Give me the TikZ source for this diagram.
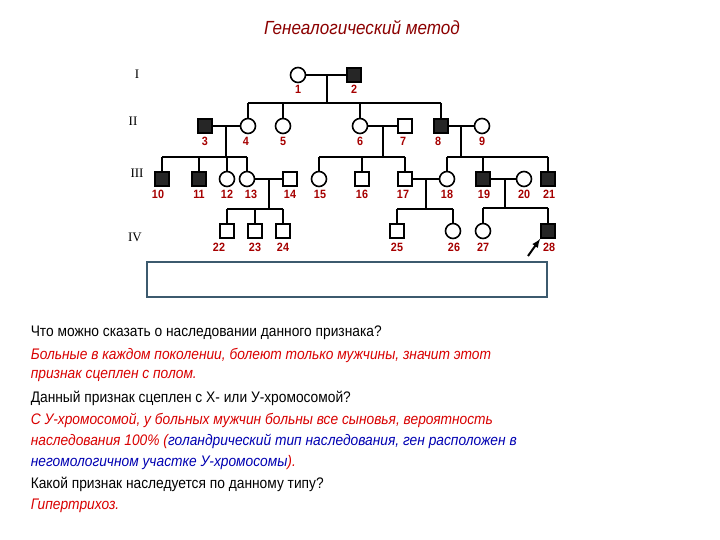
\documentclass[tikz,border=0pt]{standalone}
\usepackage{fontspec}
\setmainfont[FakeStretch=0.9]{Liberation Sans}
\newfontfamily\serifgen{Liberation Serif}
\begin{document}
\begin{tikzpicture}[x=1pt,y=-1pt,line width=1.6pt,
  m/.style={draw,rectangle,minimum size=14pt,inner sep=0pt},
  am/.style={m,fill=black!85},
  f/.style={draw,circle,minimum size=15pt,inner sep=0pt},
  lb/.style={font=\fontsize{12}{12}\selectfont\bfseries,text=red!65!black},
  gen/.style={font=\fontsize{13}{13}\selectfont\serifgen},
  tx/.style={anchor=west,inner sep=0pt,font=\fontsize{15.3}{16}\selectfont},
  ans/.style={tx,text=red!85!black,font=\fontsize{15.3}{16}\selectfont\itshape}]
\definecolor{boxc}{RGB}{60,90,110}
\fill[white] (0,0) rectangle (720,540);
\node[font=\fontsize{19}{19}\selectfont\itshape,text=red!55!black] (title) at (362,28) {Генеалогический метод};
\node[gen] (g1) at (137,74) {I};
\node[gen] (g2) at (133,121) {II};
\node[gen] (g3) at (137,173) {III};
\node[gen] (g4) at (135,237) {IV};
% gen I
\node[f] (p1) at (298,75) {}; \node[am] (p2) at (354,75) {};
% gen II
\node[am] (p3) at (205,126) {}; \node[f] (p4) at (248,126) {};
\node[f] (p5) at (283,126) {}; \node[f] (p6) at (360,126) {};
\node[m] (p7) at (405,126) {}; \node[am] (p8) at (441,126) {};
\node[f] (p9) at (482,126) {};
% gen III
\node[am] (p10) at (162,179) {}; \node[am] (p11) at (199,179) {};
\node[f] (p12) at (227,179) {}; \node[f] (p13) at (247,179) {};
\node[m] (p14) at (290,179) {}; \node[f] (p15) at (319,179) {};
\node[m] (p16) at (362,179) {}; \node[m] (p17) at (405,179) {};
\node[f] (p18) at (447,179) {}; \node[am] (p19) at (483,179) {};
\node[f] (p20) at (524,179) {}; \node[am] (p21) at (548,179) {};
% gen IV
\node[m] (p22) at (227,231) {}; \node[m] (p23) at (255,231) {};
\node[m] (p24) at (283,231) {}; \node[m] (p25) at (397,231) {};
\node[f] (p26) at (453,231) {}; \node[f] (p27) at (483,231) {};
\node[am] (p28) at (548,231) {};
% labels
\foreach \n/\x/\y in {1/298/89,2/354/89,3/205/141,4/246/141,5/283/141,6/360/141,7/403/141,8/438/141,9/482/141,
 10/158/194,11/199/194,12/227/194,13/251/194,14/290/194,15/320/194,16/362/194,17/403/194,18/447/194,19/484/194,20/524/194,21/549/194,
 22/219/247,23/255/247,24/283/247,25/397/247,26/454/247,27/483/247,28/549/247}
  \node[lb] (l\n) at (\x,\y) {\n};
% marriages and sibships
\draw (p1) -- (p2); \coordinate (m12) at (327,75); \coordinate (s1) at (327,103);
\draw (m12) -- (s1); \draw (p4.north |- s1) -- (p8.north |- s1);
\foreach \c in {p4,p5,p6,p8} \draw (\c |- s1) -- (\c.north);
\draw (p3) -- (p4); \coordinate (m34) at (226,126); \coordinate (s2) at (226,157);
\draw (m34) -- (s2); \draw (p10.north |- s2) -- (p13.north |- s2);
\foreach \c in {p10,p11,p13} \draw (\c |- s2) -- (\c.north);
\draw (p12.north |- s2) -- (p12.north);
\draw (p6) -- (p7); \coordinate (m67) at (383,126); \coordinate (s3) at (383,157);
\draw (m67) -- (s3); \draw (p15.north |- s3) -- (p17.north |- s3);
\foreach \c in {p15,p16,p17} \draw (\c |- s3) -- (\c.north);
\draw (p8) -- (p9); \coordinate (m89) at (461,126); \coordinate (s4) at (461,157);
\draw (m89) -- (s4); \draw (p18.north |- s4) -- (p21.north |- s4);
\foreach \c in {p18,p19,p21} \draw (\c |- s4) -- (\c.north);
\draw (p13) -- (p14); \coordinate (m1314) at (269,179); \coordinate (s5) at (269,209);
\draw (m1314) -- (s5); \draw (p22.north |- s5) -- (p24.north |- s5);
\foreach \c in {p22,p23,p24} \draw (\c |- s5) -- (\c.north);
\draw (p17) -- (p18); \coordinate (m1718) at (426,179); \coordinate (s6) at (426,209);
\draw (m1718) -- (s6); \draw (p25.north |- s6) -- (p26.north |- s6);
\foreach \c in {p25,p26} \draw (\c |- s6) -- (\c.north);
\draw (p19) -- (p20); \coordinate (m1920) at (505,179); \coordinate (s7) at (505,208);
\draw (m1920) -- (s7); \draw (p27.north |- s7) -- (p28.north |- s7);
\foreach \c in {p27,p28} \draw (\c |- s7) -- (\c.north);
\coordinate (arr) at (528,256);
\draw[-latex,line width=2pt] (arr) -- (p28.south west);
% box
\node[draw=boxc,line width=2pt,minimum width=400pt,minimum height=35pt,inner sep=0pt] (box) at (347,279.5) {};
% text
\node[tx] (t1) at (30,333) {Что можно сказать о наследовании данного признака?};
\node[ans] (t2) at (30,355) {Больные в каждом поколении, болеют только мужчины, значит этот};
\node[ans] (t3) at (30,376) {признак сцеплен с полом.};
\node[tx] (t4) at (30,398) {Данный признак сцеплен с Х- или У-хромосомой?};
\node[ans] (t5) at (30,420) {С У-хромосомой, у больных мужчин больны все сыновья, вероятность};
\node[ans] (t6) at (30,441) {наследования 100\% (\textcolor{blue!70!black}{голандрический тип наследования, ген расположен в}};
\node[ans] (t7) at (30,463) {\textcolor{blue!70!black}{негомологичном участке У-хромосомы}).};
\node[tx] (t8) at (30,484) {Какой признак наследуется по данному типу?};
\node[ans] (t9) at (30,506) {Гипертрихоз.};
\end{tikzpicture}
\end{document}
